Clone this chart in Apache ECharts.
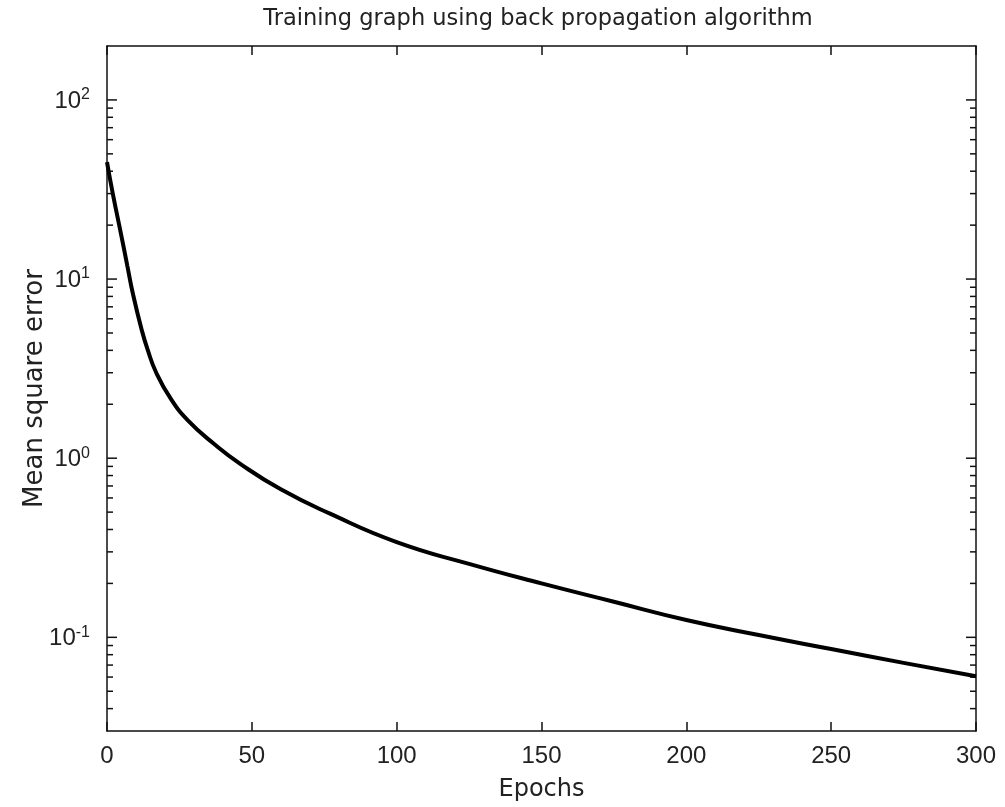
<!DOCTYPE html>
<html>
<head>
<meta charset="utf-8">
<script src="https://cdn.jsdelivr.net/npm/echarts@6/dist/echarts.min.js"></script>
<style>
  html, body { margin: 0; padding: 0; background: #fff; }
  #chart { width: 1005px; height: 807px; }
</style>
</head>
<body>
<div id="chart"></div>
<script>
// values
var epochs = [0, 2, 5, 7, 9, 12, 14, 17, 22, 28, 37, 46, 60, 77, 100, 125, 150, 175, 200, 225, 250, 275, 300];
var mse = [45, 30, 17.3, 11.9, 8.2, 5.19, 4.05, 3.0, 2.15, 1.62, 1.2, 0.93, 0.67, 0.49, 0.34, 0.257, 0.2, 0.158, 0.125, 0.103, 0.086, 0.072, 0.0606];
var xTicks = [0, 50, 100, 150, 200, 250, 300];
var yMin = 0.03, yMax = 200;

var chart = echarts.init(document.getElementById('chart'));

var lineColor = '#111';
var textFont = 'DejaVu Sans';
var tickFont = 'Liberation Sans';

function isPow10(v) {
    var l = Math.log10(v);
    return Math.abs(l - Math.round(l)) < 1e-6;
}

var points = [];
for (var i = 0; i < epochs.length; i++) {
    points.push([epochs[i], mse[i]]);
}

var option = {
    backgroundColor: '#fff',
    animation: false,
    title: {
        text: 'Training graph using back propagation algorithm',
        left: 533,
        top: 3,
        textAlign: 'center',
        textStyle: { fontFamily: textFont, fontSize: 22.5, fontWeight: 'normal', color: '#222' }
    },
    grid: { left: 107, right: 29, top: 46, bottom: 74 },
    xAxis: [{
        type: 'value',
        min: xTicks[0],
        max: xTicks[xTicks.length - 1],
        interval: 50,
        name: 'Epochs',
        nameLocation: 'middle',
        nameGap: 47,
        nameTextStyle: { fontFamily: textFont, fontSize: 24, color: '#222' },
        axisLine: { show: true, onZero: false, lineStyle: { color: lineColor, width: 1.5 } },
        axisTick: { show: true, inside: true, length: 9, lineStyle: { color: lineColor, width: 1.5 } },
        axisLabel: { margin: 13, fontFamily: tickFont, fontSize: 24, color: '#222' },
        splitLine: { show: false }
    }, {
        type: 'value',
        position: 'top',
        min: xTicks[0],
        max: xTicks[xTicks.length - 1],
        interval: 50,
        axisLine: { show: true, onZero: false, lineStyle: { color: lineColor, width: 1.5 } },
        axisTick: { show: true, inside: true, length: 9, lineStyle: { color: lineColor, width: 1.5 } },
        axisLabel: { show: false },
        splitLine: { show: false }
    }],
    yAxis: [{
        type: 'log',
        logBase: 10,
        min: yMin,
        max: yMax,
        name: 'Mean square error',
        nameLocation: 'middle',
        nameGap: 59,
        nameMoveOverlap: false,
        nameTextStyle: { fontFamily: textFont, fontSize: 26, color: '#222' },
        axisLine: { show: true, onZero: false, lineStyle: { color: lineColor, width: 1.5 } },
        axisTick: { show: false },
        axisLabel: {
            margin: 17,
            color: '#222',
            formatter: function (v) {
                if (!isPow10(v)) return '';
                return '{b|10}{e|' + Math.round(Math.log10(v)) + '}';
            },
            rich: {
                b: { fontFamily: tickFont, fontSize: 24, color: '#222', lineHeight: 26, verticalAlign: 'bottom' },
                e: { fontFamily: tickFont, fontSize: 16, color: '#222', lineHeight: 16, verticalAlign: 'top', padding: [0, 0, 16, 0] }
            }
        },
        splitLine: { show: false }
    }, {
        type: 'log',
        logBase: 10,
        position: 'right',
        min: yMin,
        max: yMax,
        axisLine: { show: true, onZero: false, lineStyle: { color: lineColor, width: 1.5 } },
        axisTick: { show: false },
        axisLabel: { show: false },
        splitLine: { show: false }
    }],
    series: [{
        type: 'line',
        data: points,
        showSymbol: false,
        symbol: 'none',
        smooth: 0.5,
        lineStyle: { color: '#000', width: 4 }
    }]
};
chart.setOption(option);

// log ticks on both sides: majors at 10^k, minors at 2..9 x 10^k, placed with the axis scale
var yTicks = [];
var x0 = chart.convertToPixel({ xAxisIndex: 0 }, xTicks[0]);
var x1 = chart.convertToPixel({ xAxisIndex: 0 }, xTicks[xTicks.length - 1]);
for (var k = -2; k <= 2; k++) {
    for (var m = 1; m <= 9; m++) {
        var v = m * Math.pow(10, k);
        if (v <= yMin * 1.0001 || v >= yMax * 0.9999) continue;
        var y = chart.convertToPixel({ yAxisIndex: 0 }, v);
        var len = m === 1 ? 10 : 6;
        yTicks.push({ type: 'line', shape: { x1: x0, y1: y, x2: x0 + len, y2: y }, style: { stroke: lineColor, lineWidth: 1.5 } });
        yTicks.push({ type: 'line', shape: { x1: x1, y1: y, x2: x1 - len, y2: y }, style: { stroke: lineColor, lineWidth: 1.5 } });
    }
}
chart.setOption({ graphic: yTicks });
</script>
</body>
</html>
